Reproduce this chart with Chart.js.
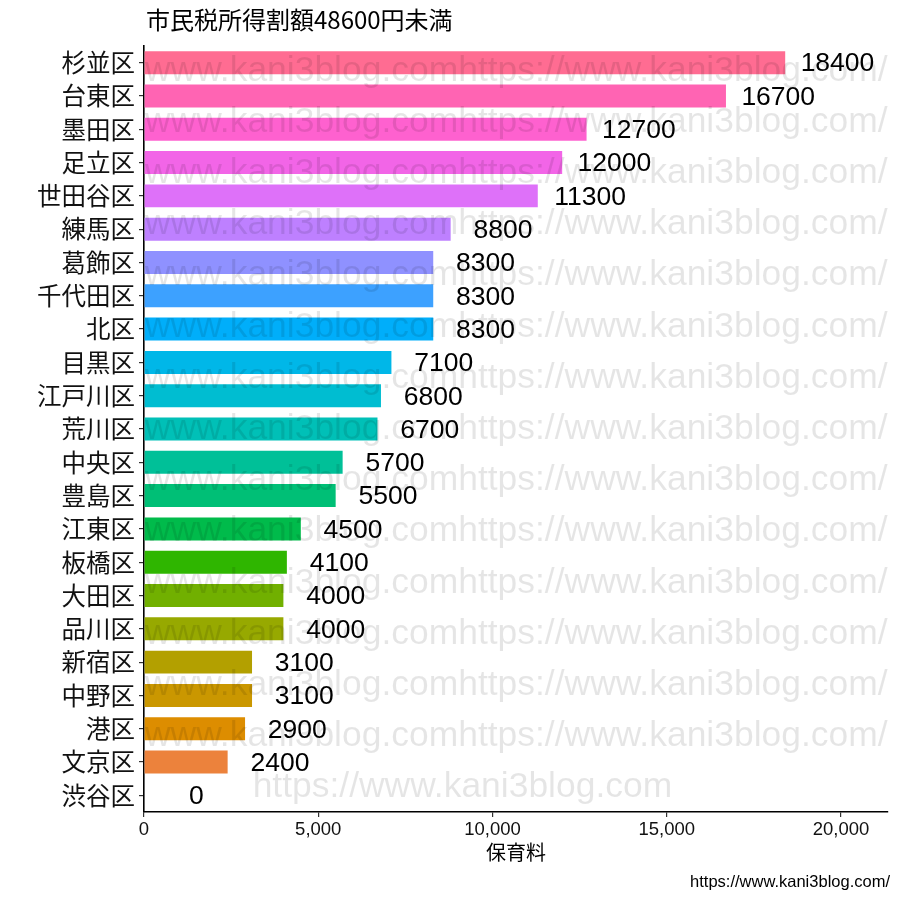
<!DOCTYPE html>
<html>
<head>
<meta charset="utf-8">
<script src="https://cdn.jsdelivr.net/npm/chart.js@4/dist/chart.umd.min.js"></script>
<style>
html,body{margin:0;padding:0;background:#fff;}
#wrap{width:900px;height:900px;position:relative;}
</style>
</head>
<body>
<div id="wrap"><canvas id="c" width="900" height="900"></canvas></div>
<script>
const categories = ["杉並区","台東区","墨田区","足立区","世田谷区","練馬区","葛飾区","千代田区","北区","目黒区","江戸川区","荒川区","中央区","豊島区","江東区","板橋区","大田区","品川区","新宿区","中野区","港区","文京区","渋谷区"];
const values = [18400,16700,12700,12000,11300,8800,8300,8300,8300,7100,6800,6700,5700,5500,4500,4100,4000,4000,3100,3100,2900,2400,0];
const xTicks = [0,5000,10000,15000,20000];
const titleText = "市民税所得割額48600円未満";
const xTitle = "保育料";
const captionText = "https://www.kani3blog.com/";
const watermarkLong = "www.kani3blog.comhttps://www.kani3blog.com/";
const watermarkShort = "https://www.kani3blog.com";
const labelOffset = 1500;

function hcl(h, c, l) {
  const hr = h * Math.PI / 180;
  const u = c * Math.cos(hr), v = c * Math.sin(hr);
  const Xn = 95.047, Yn = 100, Zn = 108.883;
  const den = Xn + 15 * Yn + 3 * Zn;
  const un = 4 * Xn / den, vn = 9 * Yn / den;
  const Y = Yn * Math.pow((l + 16) / 116, 3);
  const up = u / (13 * l) + un, vp = v / (13 * l) + vn;
  const X = Y * 9 * up / (4 * vp);
  const Z = Y * (12 - 3 * up - 20 * vp) / (4 * vp);
  const x = X / 100, y = Y / 100, z = Z / 100;
  let r = 3.240479 * x - 1.537150 * y - 0.498535 * z;
  let g = -0.969256 * x + 1.875992 * y + 0.041556 * z;
  let b = 0.055648 * x - 0.204043 * y + 1.057311 * z;
  const gam = t => { t = t <= 0.0031308 ? 12.92 * t : 1.055 * Math.pow(t, 1 / 2.4) - 0.055; return Math.round(Math.max(0, Math.min(1, t)) * 255); };
  return `rgb(${gam(r)},${gam(g)},${gam(b)})`;
}
const n = categories.length;
const colors = categories.map((_, j) => hcl(15 + (n - 1 - j) * 360 / n, 100, 65));

const decor = {
  id: 'decor',
  afterDatasetsDraw(chart) {
    const ctx = chart.ctx, a = chart.chartArea;
    const xs = chart.scales.x, ys = chart.scales.y;
    ctx.save();
    ctx.fillStyle = 'rgba(0,0,0,0.1)';
    ctx.textBaseline = 'alphabetic';
    let fs = 35;
    ctx.font = fs + 'px "Liberation Sans", Arial, sans-serif';
    const w = ctx.measureText(watermarkLong).width;
    fs = fs * (a.right - a.left - 1) / w;
    ctx.font = fs + 'px "Liberation Sans", Arial, sans-serif';
    ctx.textAlign = 'left';
    for (let k = 1; k <= 14; k++) {
      ctx.fillText(watermarkLong, a.left + 1, a.bottom - 14.7 - k * 51.2);
    }
    ctx.textAlign = 'center';
    ctx.fillText(watermarkShort, a.left + (a.right - a.left) * 0.428, a.bottom - 14.7);
    ctx.fillStyle = '#000';
    ctx.font = '26.5px "Liberation Sans", Arial, sans-serif';
    ctx.textAlign = 'center';
    ctx.textBaseline = 'middle';
    values.forEach((v, i) => {
      ctx.fillText(String(v), xs.getPixelForValue(v + labelOffset), ys.getPixelForValue(i) + 1.5);
    });
    ctx.restore();
  },
  afterDraw(chart) {
    const ctx = chart.ctx, a = chart.chartArea;
    ctx.save();
    ctx.fillStyle = '#000';
    ctx.textBaseline = 'middle';
    ctx.textAlign = 'left';
    ctx.font = '24px "Noto Sans CJK JP", sans-serif';
    ctx.fillText(titleText, a.left + 2, 20);
    ctx.textAlign = 'center';
    ctx.font = '20px "Noto Sans CJK JP", sans-serif';
    ctx.fillText(xTitle, (a.left + a.right) / 2, 852);
    ctx.textAlign = 'right';
    ctx.textBaseline = 'alphabetic';
    ctx.font = '16.5px "Liberation Sans", Arial, sans-serif';
    ctx.fillText(captionText, 890, 887);
    ctx.restore();
  }
};

new Chart(document.getElementById('c'), {
  type: 'bar',
  data: {
    labels: categories,
    datasets: [{
      data: values,
      backgroundColor: colors,
      borderWidth: 0,
      barPercentage: 0.69,
      categoryPercentage: 1.0
    }]
  },
  options: {
    indexAxis: 'y',
    responsive: false,
    animation: false,
    layout: { padding: { left: 0, top: 46, right: 12, bottom: 0 } },
    plugins: { legend: { display: false }, tooltip: { enabled: false }, title: { display: false } },
    scales: {
      x: {
        type: 'linear',
        min: 0,
        max: 21350,
        afterFit(s) { s.height = 88; },
        afterBuildTicks(s) { s.ticks = xTicks.map(v => ({ value: v })); },
        ticks: {
          includeBounds: false,
          color: '#111',
          padding: 2,
          font: { family: '"Liberation Sans", Arial, sans-serif', size: 18.5 },
          callback: v => Number(v).toLocaleString('en-US')
        },
        grid: { drawOnChartArea: false, drawTicks: true, tickLength: 5, color: '#333', lineWidth: 1.2 },
        border: { display: true, color: '#000', width: 1.6 }
      },
      y: {
        type: 'category',
        offset: true,
        afterFit(s) { s.width = 144; },
        ticks: {
          color: '#111',
          padding: 4,
          font: { family: '"Noto Sans CJK JP", sans-serif', size: 24.5 }
        },
        grid: { offset: false, drawOnChartArea: false, drawTicks: true, tickLength: 5, color: '#333', lineWidth: 1.2 },
        border: { display: true, color: '#000', width: 1.6 }
      }
    }
  },
  plugins: [decor]
});
</script>
</body>
</html>
